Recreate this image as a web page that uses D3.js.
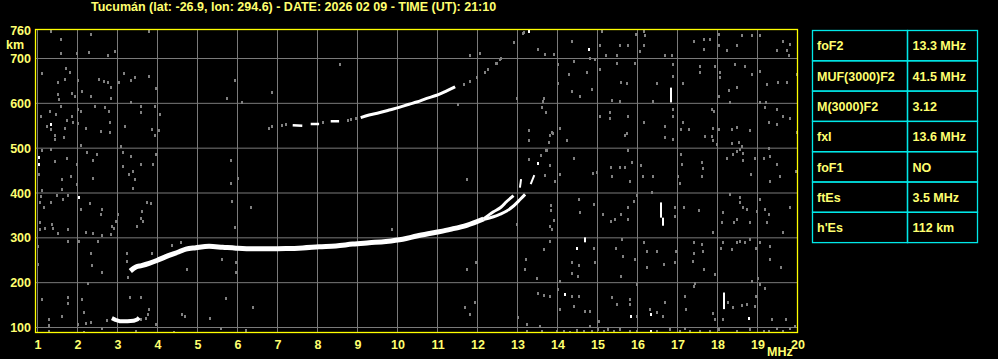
<!DOCTYPE html>
<html><head><meta charset="utf-8">
<script src="https://cdn.jsdelivr.net/npm/d3@7"></script>
<style>html,body{margin:0;padding:0;background:#000;overflow:hidden}svg{display:block}</style>
</head><body>
<svg id="chart" width="998" height="359"></svg>
<script>
// ---------------- DATA ----------------
const title = "Tucumán (lat: -26.9, lon: 294.6) - DATE: 2026 02 09 - TIME (UT): 21:10";
const freqTicks = [1,2,3,4,5,6,7,8,9,10,11,12,13,14,15,16,17,18,19,20];
const heightTicks = [100,200,300,400,500,600,700];
const topHeightLabel = 760;
const freqUnit = "MHz";
const heightUnit = "km";

// F-layer trace (freq MHz, virtual height km)
const traceF = [[3.32,226],[3.46,235],[3.6,238],[3.79,243],[4.0,250],[4.21,258],[4.54,269],[4.71,275],[4.96,278],
  [5.29,281],[5.63,279],[5.96,277],[6.38,275.5],[6.79,275.5],[7.21,276],[7.63,277.5],[8.04,280],[8.46,282],
  [8.88,286],[9.29,289],[9.71,292],[10.13,297],[10.48,304],[11.0,313],[11.32,319],[11.73,328],[12.15,342]];
const traceFo = [[12.15,342],[12.4,358],[12.57,367],[12.73,381],[12.9,394]];
const traceFx = [[12.15,341],[12.4,347],[12.57,353],[12.73,360],[12.9,371],[13.07,386],[13.19,397]];
const traceFends = [[[13.06,412],[13.09,431]],[[13.33,420],[13.42,440]]];
// second-hop trace segments
const traceHop2 = [
  [[7.38,551],[7.62,550]],
  [[7.83,554],[8.04,554]],
  [[8.33,560],[8.54,560]],
  [[9.08,568],[9.29,574],[9.54,579],[9.79,585],[10.04,591],[10.29,598],[10.48,603],[10.73,611],[10.98,618],[11.23,628],[11.44,637]]
];
// sporadic E trace
const traceEs = [[2.86,121],[2.95,117],[3.05,114],[3.25,114],[3.4,115],[3.5,118],[3.54,122]];

// isolated strong echoes
const whiteDots = [[14.78,721],[14.48,278],[14.18,174],[15.83,126],[16.33,130],[18.78,122],[16.34,92],
  [13.52,466],[13.28,762],[1.03,481],[1.03,464],[1.34,554],[2.03,391]];
const whiteStreaks = [[16.83,602,635],[16.59,345,379],[16.63,327,345],[18.17,141,178],[14.68,290,301]];

// weak echoes / noise
const noiseDots = [
 [1.33,762],[1.58,743],[2.33,754],[2.28,715],[1.58,713],[1.98,712],[2.77,708],[2.94,717],[3.79,762],
 [1.12,667],[1.72,678],[1.82,670],[1.68,655],[1.52,648],[2.02,652],[2.54,655],[2.67,650],[2.77,648],[2.83,637],
 [3.03,648],[3.17,667],[3.33,652],[3.43,659],[3.79,661],[3.96,634],[1.87,623],[1.52,620],[1.54,609],[1.93,617],
 [2.10,627],[2.34,616],[2.83,612],[3.34,603],[3.58,594],[3.93,594],[4.06,577],[1.08,572],[1.32,584],[1.46,576],
 [1.58,594],[2.02,587],[2.09,582],[2.44,594],[2.68,592],[2.79,582],[3.18,549],[2.82,559],[3.58,581],[1.23,550],
 [1.33,542],[1.69,544],[1.74,562],[1.87,571],[1.89,559],[2.02,557],[2.22,545],[2.58,539],[2.81,536],[3.86,542],
 [3.93,530],[4.04,541],[1.43,520],[1.44,529],[1.67,526],[2.08,507],[3.08,505],[1.33,498],[1.12,496],[1.73,478],
 [2.23,492],[2.48,487],[2.39,474],[3.14,492],[3.33,483],[3.58,464],[3.89,464],[3.97,487],[1.43,472],[1.04,442],
 [1.98,464],[1.84,438],[1.61,432],[2.38,433],[3.14,461],[3.29,442],[3.39,449],[3.43,431],[3.39,412],[1.98,420],
 [1.62,410],[1.11,407],[1.08,394],[1.06,380],[1.17,368],[1.33,379],[1.48,396],[1.63,386],[1.75,396],[2.08,364],
 [2.32,377],[2.60,365],[2.58,353],[3.01,353],[3.73,381],[3.83,377],[3.62,360],[3.58,345],[3.64,337],[3.48,327],
 [2.96,338],[2.86,327],[2.92,323],[2.83,308],[2.62,306],[2.21,312],[2.39,310],[1.75,319],[1.52,310],[1.37,330],
 [1.39,323],[1.19,323],[1.07,336],[1.06,319],[1.0,282],[1.77,293],[2.04,293],[2.52,293],[1.0,241],[2.33,267],
 [2.37,239],[2.62,223],[3.23,266],[3.23,249],[3.27,212],[3.87,266],[4.37,284],[4.58,290],[4.73,230],[5.62,252],
 [5.97,245],[5.97,224],[5.83,473],[5.93,652],[5.73,612],[6.12,603],[6.87,626],[8.57,687],[5.83,422],[6.02,434],
 [5.87,382],[6.33,369],[5.93,324],[9.87,319],[1.12,163],[1.77,167],[1.77,154],[2.12,163],[2.17,135],[2.27,199],
 [3.31,168],[3.58,168],[3.79,142],[3.77,129],[3.58,120],[1.28,119],[1.28,106],[1.29,93],[1.62,126],[2.0,107],
 [2.22,111],[2.33,113],[2.62,98],[2.73,116],[3.71,122],[3.96,108],[4.62,130],[4.68,126],[5.31,122],[5.72,165],
 [6.38,145],[3.46,93],[5.58,98],[6.21,94],[4.42,91],[2.17,91],
 [6.79,545],[6.87,550],[7.12,551],[7.21,554],[8.13,559],[8.75,563],[8.83,565],[8.96,568],
 [11.65,644],[11.82,650],[11.98,658],[12.19,670],[12.25,676],[12.48,691],[12.58,701],[12.9,737],[13.15,758],
 [13.28,475],[13.58,484],[13.72,496],[13.78,513],[13.8,529],[13.86,535],
 [13.13,757],[12.92,737],[14.36,739],[15.05,730],[15.11,762],[15.57,730],[15.77,730],[15.96,754],[16.15,762],
 [16.19,752],[16.15,730],[16.05,717],[15.48,707],[15.22,707],[15.94,691],[16.69,707],[16.86,707],[17.42,739],
 [17.65,743],[17.67,721],[17.82,743],[18.03,754],[18.48,730],[18.61,752],[18.86,752],[19.07,752],[19.48,719],
 [19.63,739],[19.73,719],[19.8,732],[19.78,707],[18.23,719],[18.03,730],[13.69,710],[13.52,721],[13.92,710],
 [12.07,712],[12.57,700],[12.46,690],[11.82,707],[14.82,702],[14.94,700],[14.02,687],[14.02,646],[14.28,665],
 [14.42,695],[14.73,670],[15.07,676],[15.48,691],[15.58,648],[15.73,646],[16.48,646],[16.38,606],[16.88,687],
 [16.9,661],[17.13,646],[17.57,684],[17.57,670],[17.94,684],[18.07,670],[18.07,658],[18.03,617],[18.28,630],
 [18.44,687],[18.48,637],[18.69,684],[18.86,665],[19.07,673],[19.23,643],[19.52,648],[19.73,648],[19.98,665],
 [19.22,602],[18.32,602],[14.57,617],[14.36,628],[13.65,613],[13.63,606],[15.36,608],[15.57,606],[14.86,633],
 [12.98,611],[11.52,598],[13.61,591],[13.72,581],[15.07,571],[15.32,581],[15.32,568],[15.75,571],[16.15,559],
 [16.69,550],[16.88,571],[16.88,588],[17.86,587],[17.9,583],[17.13,559],[17.28,542],[17.08,542],[17.88,544],
 [18.03,542],[17.69,528],[17.86,528],[17.88,519],[18.36,542],[18.48,548],[18.82,541],[19.07,603],[19.28,559],
 [19.48,554],[19.48,587],[19.65,572],[19.8,568],[19.98,535],[19.19,591],[14.07,544],[14.23,519],[13.88,533],
 [13.78,513],[13.28,541],[13.28,519],[15.69,529],[15.73,533],[16.68,524],[16.9,520],[17.98,509],[18.36,511],
 [18.53,514],[18.61,505],[19.28,501],[13.73,496],[13.8,462],[13.69,440],[13.94,427],[14.07,442],[14.42,479],
 [14.88,444],[14.98,447],[15.33,457],[15.36,438],[15.57,459],[15.69,459],[15.77,496],[15.86,469],[15.82,427],
 [16.08,462],[16.13,438],[16.38,438],[17.08,487],[17.02,437],[17.07,422],[17.11,464],[17.61,469],[17.63,455],
 [17.61,438],[18.23,477],[18.38,487],[18.48,494],[18.57,498],[18.63,489],[18.65,473],[18.94,477],[19.15,479],
 [19.32,483],[19.48,464],[19.57,437],[19.97,449],[18.83,442],[19.32,427],[11.73,432],[13.83,373],[13.83,362],
 [13.92,340],[13.82,327],[13.86,319],[14.57,358],[14.53,386],[14.92,375],[15.13,353],[15.33,338],[15.44,342],
 [15.58,353],[15.77,368],[15.9,382],[15.77,342],[15.98,395],[16.36,403],[16.94,368],[16.94,349],[17.17,368],
 [17.53,362],[17.88,313],[18.13,357],[18.11,336],[18.32,397],[18.4,336],[18.48,342],[18.57,390],[18.57,379],
 [18.63,368],[18.73,364],[18.82,336],[18.98,360],[19.07,386],[19.19,364],[19.28,353],[19.23,336],[19.63,313],
 [19.8,368],[12.98,330],[13.67,276],[13.82,293],[13.22,252],[13.19,230],[13.48,211],[14.07,204],[14.37,245],
 [14.37,221],[14.53,239],[14.51,215],[14.92,278],[14.94,245],[15.47,278],[15.61,297],[15.63,260],[15.58,215],
 [15.94,252],[15.98,197],[16.17,290],[16.23,271],[16.23,234],[16.48,271],[16.67,241],[16.97,271],[16.94,247],
 [17.4,290],[17.4,267],[17.38,249],[17.61,286],[17.63,271],[17.67,230],[17.93,219],[18.08,278],[18.13,290],
 [18.36,274],[18.48,290],[18.57,293],[18.69,290],[18.82,297],[18.97,278],[19.07,290],[19.32,282],[19.32,252],
 [19.58,234],[19.0,211],[18.86,204],[11.97,245],[11.73,230],[11.69,145],[11.82,130],[11.94,156],[13.02,124],
 [13.23,107],[13.52,178],[13.65,172],[13.82,171],[14.02,186],[14.05,142],[14.36,171],[14.53,171],[14.4,148],
 [14.69,137],[14.82,137],[15.03,115],[15.36,167],[15.48,152],[15.82,163],[15.82,152],[15.98,126],[16.32,141],
 [16.48,135],[16.63,126],[16.68,157],[17.19,171],[17.22,142],[17.4,193],[17.44,200],[17.88,133],[17.94,119],
 [18.15,119],[18.26,156],[18.38,145],[18.61,150],[18.73,152],[18.97,171],[19.07,197],[19.19,189],[19.36,119],
 [19.72,119],[18.94,148],
 [13.23,93],[13.57,104],[13.61,93],[13.98,93],[14.15,93],[14.32,91],[14.48,95],[14.65,93],[14.82,104],[14.86,93],
 [15.02,96],[15.15,93],[15.27,96],[15.4,93],[15.57,96],[15.82,93],[15.98,93],[16.48,93],[16.82,96],[17.07,93],
 [17.19,100],[17.32,93],[17.57,93],[17.82,93],[18.03,96],[18.48,93],[18.82,96],[19.15,93],[19.28,93],[19.48,100],
 [19.65,93],[19.82,100],[19.94,104]
];

const tableLabels = ["foF2","MUF(3000)F2","M(3000)F2","fxI","foF1","ftEs","h'Es"];
const tableValues = ["13.3 MHz","41.5 MHz","3.12","13.6 MHz","NO","3.5 MHz","112 km"];

// ---------------- DRAW ----------------
const svg = d3.select("#chart");
const FONT = "'Liberation Sans', Arial, sans-serif";
const TXT = "#ffff70";
const YEL = "#ffff00";
const GRID = "#7a7a7a";
const NOISE = "#808080";
const CYAN = "#00e8e8";

svg.append("rect").attr("width",998).attr("height",359).attr("fill","#000");

const x = d3.scaleLinear().domain([1,20]).range([37.5,797.5]);
const y = d3.scaleLinear().domain([100,700]).range([327.5,58.5]);
const plot = {left:35.5, right:797.5, top:29.5, bottom:332.5};

const clipId = "plotclip";
svg.append("clipPath").attr("id",clipId).append("rect")
  .attr("x",plot.left).attr("y",plot.top).attr("width",plot.right-plot.left).attr("height",plot.bottom-plot.top);

const g = svg.append("g").attr("clip-path",`url(#${clipId})`);

// grid
g.selectAll("line.vg").data(freqTicks).join("line")
  .attr("x1",d=>x(d)).attr("x2",d=>x(d)).attr("y1",plot.top).attr("y2",plot.bottom)
  .attr("stroke",GRID).attr("stroke-width",1);
g.selectAll("line.hg").data(heightTicks).join("line")
  .attr("y1",d=>y(d)).attr("y2",d=>y(d)).attr("x1",plot.left).attr("x2",plot.right)
  .attr("stroke",GRID).attr("stroke-width",1);

// noise
g.selectAll("rect.n").data(noiseDots).join("rect")
  .attr("x",d=>Math.round(x(d[0]))-1).attr("y",d=>Math.round(y(d[1]))-1)
  .attr("width",2).attr("height",3).attr("fill",NOISE);

// traces
const line = d3.line().x(d=>x(d[0])).y(d=>y(d[1])).curve(d3.curveMonotoneX);
const lineLin = d3.line().x(d=>x(d[0])).y(d=>y(d[1]));
function trace(pts, w, gen){
  g.append("path").attr("d",(gen||line)(pts)).attr("fill","none")
   .attr("stroke","#fff").attr("stroke-width",w).attr("stroke-linejoin","round");
}
trace(traceF,5);
trace(traceFo,3);
trace(traceFx,3);
traceFends.forEach(s=>trace(s,2,lineLin));
traceHop2.forEach((s,i)=>trace(s, i===3?3:2.5));
trace(traceEs,4,lineLin);

g.selectAll("rect.w").data(whiteDots).join("rect")
  .attr("x",d=>Math.round(x(d[0]))-1).attr("y",d=>Math.round(y(d[1]))-1)
  .attr("width",2).attr("height",3).attr("fill","#fff");
g.selectAll("rect.ws").data(whiteStreaks).join("rect")
  .attr("x",d=>Math.round(x(d[0]))-1).attr("y",d=>y(d[2]))
  .attr("width",2).attr("height",d=>y(d[1])-y(d[2])).attr("fill","#fff");

// border
svg.append("rect").attr("x",plot.left).attr("y",plot.top)
  .attr("width",plot.right-plot.left).attr("height",plot.bottom-plot.top)
  .attr("fill","none").attr("stroke",YEL).attr("stroke-width",1.3);

// texts
const txt = (s,xx,yy,anchor)=>svg.append("text").text(s).attr("x",xx).attr("y",yy)
  .attr("fill",TXT).attr("font-family",FONT).attr("font-weight","bold").attr("font-size",12.5)
  .attr("text-anchor",anchor||"start");

txt(title,91,11);
heightTicks.forEach(h=>txt(h,31,y(h)+4.5,"end"));
txt(topHeightLabel,31,35,"end");
txt(heightUnit,6,49,"start");
freqTicks.forEach(f=>txt(f,x(f)+0.5,349,"middle"));
txt(freqUnit,767,355.5,"start");

// table
const tb = {left:812.5, mid:907.5, right:977.5, top:30.5, rowH:30.3};
const tg = svg.append("g");
tableLabels.forEach((lab,i)=>{
  const yy = tb.top + i*tb.rowH;
  tg.append("rect").attr("x",tb.left).attr("y",yy).attr("width",tb.mid-tb.left).attr("height",tb.rowH)
    .attr("fill","none").attr("stroke",CYAN).attr("stroke-width",1.3);
  tg.append("rect").attr("x",tb.mid).attr("y",yy).attr("width",tb.right-tb.mid).attr("height",tb.rowH)
    .attr("fill","none").attr("stroke",CYAN).attr("stroke-width",1.3);
  txt(lab,817,yy+tb.rowH/2+4.8,"start");
  txt(tableValues[i],912.5,yy+tb.rowH/2+4.8,"start");
});
</script>
</body></html>
